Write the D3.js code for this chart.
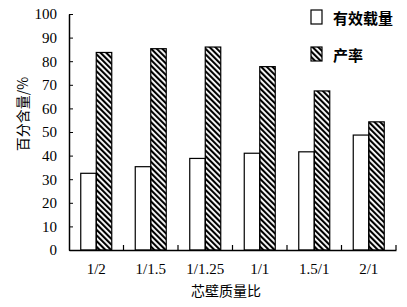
<!DOCTYPE html>
<html>
<head>
<meta charset="utf-8">
<script src="https://cdn.jsdelivr.net/npm/d3@7"></script>
<style>
  body { margin: 0; background: #fff; }
  svg { display: block; }
</style>
</head>
<body>
<script>
// chart data
const categories = ["1/2", "1/1.5", "1/1.25", "1/1", "1.5/1", "2/1"];
const seriesNames = ["有效载量", "产率"];
const loading = [32.5, 35.3, 38.8, 41.0, 41.6, 48.7];
const yieldRate = [83.7, 85.3, 86.0, 77.7, 67.4, 54.3];
const yTicks = [0, 10, 20, 30, 40, 50, 60, 70, 80, 90, 100];

const width = 407;
const height = 307;
const margin = {top: 14, right: 11, bottom: 57, left: 69};

const svg = d3.select("body").append("svg")
    .attr("width", width)
    .attr("height", height);

// diagonal hatch
const defs = svg.append("defs");
defs.append("pattern")
    .attr("id", "hatch")
    .attr("patternUnits", "userSpaceOnUse")
    .attr("width", 4)
    .attr("height", 4)
    .attr("patternTransform", "rotate(-45)")
  .append("rect")
    .attr("width", 2.1)
    .attr("height", 4)
    .attr("fill", "#000");

const x = d3.scaleBand()
    .domain(categories)
    .range([margin.left, width - margin.right])
    .padding(0);

const pairWidth = 31;
const xs = d3.scaleBand()
    .domain(seriesNames)
    .range([(x.step() - pairWidth) / 2, (x.step() + pairWidth) / 2]);

const y = d3.scaleLinear()
    .domain([0, 100])
    .range([height - margin.bottom, margin.top]);

const rows = categories.map((c, i) => ({cat: c, values: [loading[i], yieldRate[i]]}));

// bars
const groups = svg.append("g")
  .selectAll("g")
  .data(rows)
  .enter().append("g")
    .attr("transform", d => `translate(${x(d.cat)},0)`);

groups.selectAll("rect")
  .data(d => d.values.map((v, j) => ({name: seriesNames[j], value: v})))
  .enter().append("rect")
    .attr("x", d => xs(d.name))
    .attr("y", d => y(d.value))
    .attr("width", xs.bandwidth())
    .attr("height", d => y(0) - y(d.value))
    .attr("fill", d => d.name === seriesNames[0] ? "#fff" : "url(#hatch)")
    .attr("stroke", "#000")
    .attr("stroke-width", 1.2);

// y axis
const yAxis = svg.append("g")
    .attr("transform", `translate(${margin.left},0)`)
    .call(d3.axisLeft(y).tickValues(yTicks).tickSize(-4).tickSizeOuter(0).tickPadding(12));
yAxis.select(".domain").attr("stroke-width", 1.5);
yAxis.selectAll("text")
    .attr("font-family", "Liberation Serif, Times New Roman, serif")
    .attr("font-size", 15)
    .attr("fill", "#000");

// x axis
const xAxis = svg.append("g")
    .attr("transform", `translate(0,${y(0)})`)
    .call(d3.axisBottom(x).tickSize(0).tickSizeOuter(0).tickPadding(13));
xAxis.select(".domain").attr("stroke-width", 1.5);
xAxis.selectAll("text")
    .attr("font-family", "Liberation Serif, Times New Roman, serif")
    .attr("font-size", 15)
    .attr("fill", "#000");

// boundary ticks between categories
svg.append("g")
  .selectAll("line")
  .data(categories)
  .enter().append("line")
    .attr("x1", d => x(d) + x.step())
    .attr("x2", d => x(d) + x.step())
    .attr("y1", y(0))
    .attr("y2", y(0) - 5)
    .attr("stroke", "#000")
    .attr("stroke-width", 1.2);

// axis titles
svg.append("text")
    .attr("transform", `translate(22,${(margin.top + height - margin.bottom) / 2 - 18}) rotate(-90)`)
    .attr("text-anchor", "middle")
    .attr("dominant-baseline", "central")
    .attr("font-family", "Noto Sans CJK SC, sans-serif")
    .attr("font-size", 14)
    .text("百分含量/%");

svg.append("text")
    .attr("x", 226)
    .attr("y", 296)
    .attr("text-anchor", "middle")
    .attr("font-family", "Noto Sans CJK SC, sans-serif")
    .attr("font-size", 14)
    .text("芯壁质量比");

// legend
const legend = svg.append("g")
  .selectAll("g")
  .data(seriesNames)
  .enter().append("g")
    .attr("transform", (d, i) => `translate(311,${10 + i * 37})`);

legend.append("rect")
    .attr("width", 11)
    .attr("height", 14)
    .attr("fill", (d, i) => i === 0 ? "#fff" : "url(#hatch)")
    .attr("stroke", "#000")
    .attr("stroke-width", 1.2);

legend.append("text")
    .attr("x", 22)
    .attr("y", 7)
    .attr("dominant-baseline", "central")
    .attr("font-family", "Noto Sans CJK SC, sans-serif")
    .attr("font-size", 15)
    .attr("font-weight", "bold")
    .text(d => d);
</script>
</body>
</html>
